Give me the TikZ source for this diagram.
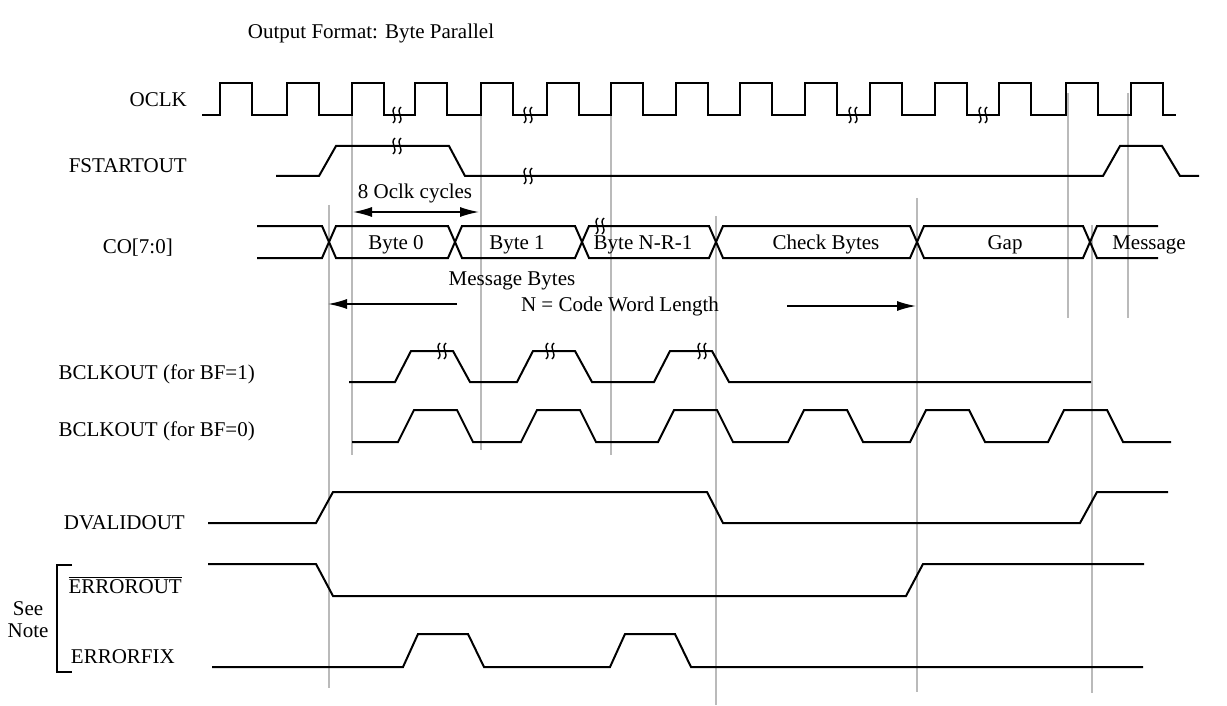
\documentclass[tikz,border=0pt]{standalone}
\usepackage{fontspec}
\setmainfont{Liberation Serif}
\usetikzlibrary{arrows.meta}

\begin{document}
\begin{tikzpicture}[x=1pt,y=-1pt,font=\fontsize{21}{25}\selectfont]

    \tikzstyle{sig}=[line width=2pt, line join=miter, line cap=rect];
    \tikzstyle{guide}=[line width=1.6pt, draw=black!27];
    \tikzstyle{lbl}=[anchor=base east, inner sep=0pt];
    \tikzstyle{txt}=[anchor=base, inner sep=0pt];
    \tikzstyle{dim}=[line width=1.5pt, >={Latex[length=19pt,width=10pt]}];
    \tikzstyle{brk}=[line width=1.4pt];

    \useasboundingbox (0,0) rectangle (1227,706);

    \node[txt] (title) at (371,39) {Output Format: Byte Parallel};

    \node[lbl] (oclk) at (187,107) {OCLK};
    \node[lbl] (fstart) at (187,172) {FSTARTOUT};
    \node[lbl] (co) at (173,253) {CO[7:0]};
    \node[lbl] (bclk1) at (255,379) {BCLKOUT (for BF=1)};
    \node[lbl] (bclk0) at (255,436) {BCLKOUT (for BF=0)};
    \node[lbl] (dval) at (185,529) {DVALIDOUT};
    \node[lbl] (errout) at (182,593) {$\overline{\mbox{ERROROUT}}$};
    \node[lbl] (errfix) at (175,663) {ERRORFIX};
    \node[txt] (see) at (28,615) {See};
    \node[txt] (note) at (28,637) {Note};
    \draw[line width=1.5pt] (72,565) -- (57,565) -- (57,672) -- (72,672);

    \draw[guide] (329,205) -- (329,688);
    \draw[guide] (352,115) -- (352,455);
    \draw[guide] (481,115) -- (481,450);
    \draw[guide] (611,115) -- (611,455);
    \draw[guide] (716,216) -- (716,705);
    \draw[guide] (917,198) -- (917,692);
    \draw[guide] (1068,93) -- (1068,318);
    \draw[guide] (1092,225) -- (1092,693);
    \draw[guide] (1128,93) -- (1128,318);

    \draw[sig] (203,115) \foreach \r in {220,287,352,415,481,547,611,676,740,805,870,935,999,1066,1131} { -- (\r,115) -- (\r,83) -- (\r+32,83) -- (\r+32,115) } -- (1175,115);

    \draw[sig] (277,176) -- (319,176) -- (336,146) -- (449,146) -- (465,176) -- (1103,176) -- (1120,146) -- (1162,146) -- (1180,176) -- (1198,176);

    \draw[sig] (258,226) -- (322,226) -- (329,242) -- (322,258) -- (258,258);
    \foreach \a/\b in {329/455, 455/582, 582/716, 716/917, 917/1090}
        \draw[sig] (\a,242) -- (\a+7,226) -- (\b-7,226) -- (\b,242) -- (\b-7,258) -- (\a+7,258) -- cycle;
    \draw[sig] (1157,226) -- (1097,226) -- (1090,242) -- (1097,258) -- (1157,258);

    \node[txt] (byte0) at (396,249) {Byte 0};
    \node[txt] (byte1) at (517,249) {Byte 1};
    \node[txt] (bytenr) at (643,249) {Byte N-R-1};
    \node[txt] (check) at (826,249) {Check Bytes};
    \node[txt] (gap) at (1005,249) {Gap};
    \node[txt] (msg) at (1149,249) {Message};

    \draw[sig] (350,382) \foreach \x in {395,517,654} { -- (\x,382) -- (\x+16,351) -- (\x+58,351) -- (\x+75,382) } -- (1090,382);
    \draw[sig] (353,442) \foreach \x in {398,521,658,788,910,1048} { -- (\x,442) -- (\x+16,410) -- (\x+59,410) -- (\x+75,442) } -- (1170,442);

    \draw[sig] (209,523) -- (316,523) -- (333,492) -- (707,492) -- (723,523) -- (1080,523) -- (1097,492) -- (1167,492);
    \draw[sig] (209,564) -- (316,564) -- (333,596) -- (906,596) -- (923,564) -- (1143,564);
    \draw[sig] (213,667) \foreach \x in {403,610} { -- (\x,667) -- (\x+15,634) -- (\x+65,634) -- (\x+81,667) } -- (1142,667);

    \foreach \x/\y in {397/115, 528/115, 853/115, 983/115, 397/146, 528/176, 442/351, 550/351, 702/351, 600/226} {
        \draw[brk] (\x-4,\y+8) .. controls (\x+2,\y+3) and (\x-8,\y-3) .. (\x-2,\y-8);
        \draw[brk] (\x+2,\y+8) .. controls (\x+8,\y+3) and (\x-2,\y-3) .. (\x+4,\y-8);
    }

    \coordinate (cyc0) at (353,212);
    \coordinate (cyc8) at (479,212);
    \draw[dim,<->] (cyc0) -- (cyc8);
    \node[txt] (cycles) at (415,199) {8 Oclk cycles};

    \node[txt] (msgbytes) at (512,285) {Message Bytes};
    \node[txt] (codeword) at (620,311) {N = Code Word Length};
    \coordinate (nl0) at (457,304);
    \coordinate (nl1) at (328,304);
    \draw[dim,->] (nl0) -- (nl1);
    \coordinate (nr0) at (787,306);
    \coordinate (nr1) at (916,306);
    \draw[dim,->] (nr0) -- (nr1);
\end{tikzpicture}
\end{document}
